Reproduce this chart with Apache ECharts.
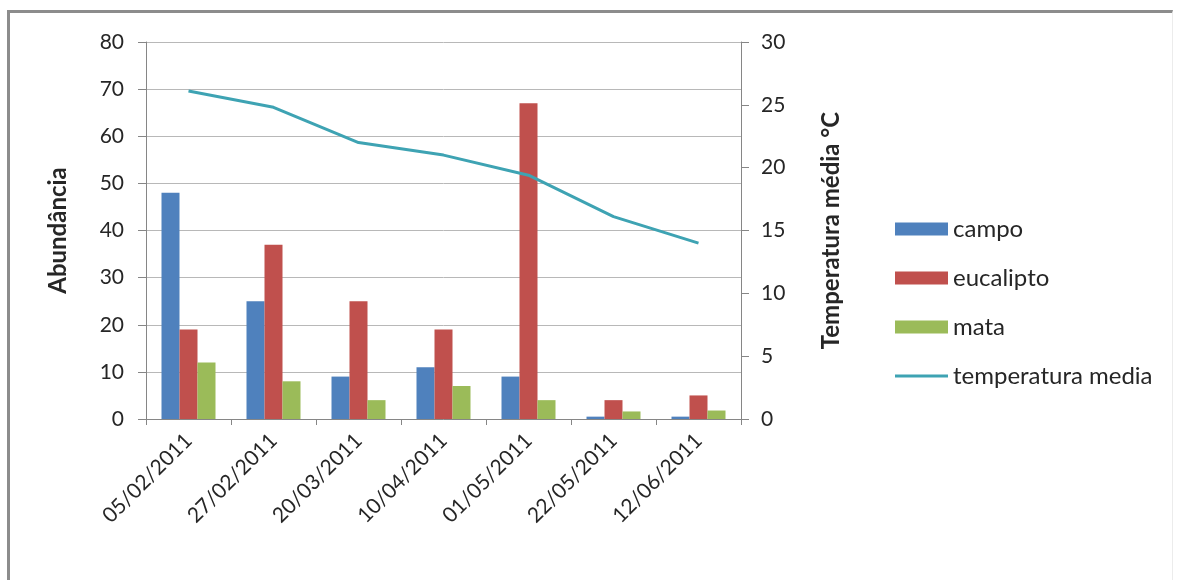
<!DOCTYPE html>
<html>
<head>
<meta charset="utf-8">
<script src="https://cdn.jsdelivr.net/npm/echarts@6/dist/echarts.min.js"></script>
<style>
  html, body { margin: 0; padding: 0; background: #fff; }
  #chart { position: absolute; left: 0; top: 0; width: 1177px; height: 580px; }
  #frame {
    position: absolute; left: 7px; top: 10px; width: 1166px; height: 600px;
    border-top: 3px solid #8c8c8c; border-left: 3px solid #8c8c8c;
    border-right: 1px solid #ececec; pointer-events: none; box-sizing: border-box;
  }
</style>
</head>
<body>
<div id="chart"></div>
<div id="frame"></div>
<script>
// Sampling dates
const datas = ['05/02/2011', '27/02/2011', '20/03/2011', '10/04/2011', '01/05/2011', '22/05/2011', '12/06/2011'];
// Abundance per habitat
const campo = [48, 25, 9, 11, 9, 0.5, 0.5];
const eucalipto = [19, 37, 25, 19, 67, 4, 5];
const mata = [12, 8, 4, 7, 4, 1.6, 1.8];
// Mean temperature (°C)
const temperatura = [26.1, 24.8, 22.0, 21.0, 19.4, 16.1, 14.0];

const FONT = 'Lato, "Open Sans", sans-serif';
const TXT = '#262626';
const AXIS = '#868686';

// thin horizontal stroke centred in the legend box
const LINE_ICON = 'path://M0,0 L0.01,0 L0,0.01 Z M0,5 L53,5 L53,8 L0,8 Z M0,13 L0.01,13 L0,12.99 Z';

const chart = echarts.init(document.getElementById('chart'), null, { renderer: 'canvas' });

chart.setOption({
  animation: false,
  textStyle: { fontFamily: FONT },
  grid: { left: 146, right: 436, top: 42, bottom: 161 },
  legend: {
    orient: 'vertical',
    left: 890,
    top: 212,
    itemWidth: 53,
    itemHeight: 13,
    itemGap: 25,
    textStyle: { fontFamily: FONT, fontSize: 24, color: TXT },
    data: [
      { name: 'campo', icon: 'rect' },
      { name: 'eucalipto', icon: 'rect' },
      { name: 'mata', icon: 'rect' },
      { name: 'temperatura media', icon: LINE_ICON, itemStyle: { color: '#3EA3B3' } }
    ]
  },
  xAxis: {
    type: 'category',
    data: datas,
    axisLine: { lineStyle: { color: AXIS, width: 1 } },
    axisTick: { show: true, alignWithLabel: false, length: 6, lineStyle: { color: AXIS } },
    axisLabel: { rotate: 45, fontSize: 21, color: TXT, margin: 18, fontFamily: FONT }
  },
  yAxis: [
    {
      type: 'value', min: 0, max: 80, interval: 10,
      name: 'Abundância', nameLocation: 'middle', nameGap: 76, nameRotate: 90,
      nameTextStyle: { fontSize: 24, fontWeight: 'bold', color: TXT, fontFamily: FONT },
      axisLine: { show: true, lineStyle: { color: AXIS } },
      axisTick: { show: true, length: 8, lineStyle: { color: AXIS } },
      axisLabel: { fontSize: 21, color: TXT, margin: 22, fontFamily: FONT },
      splitLine: { lineStyle: { color: '#b8b8b8', width: 1 } }
    },
    {
      type: 'value', min: 0, max: 30, interval: 5,
      name: 'Temperatura média °C', nameLocation: 'middle', nameGap: 78, nameRotate: 90,
      nameTextStyle: { fontSize: 24, fontWeight: 'bold', color: TXT, fontFamily: FONT },
      axisLine: { show: true, lineStyle: { color: AXIS } },
      axisTick: { show: true, length: 8, lineStyle: { color: AXIS } },
      axisLabel: { fontSize: 21, color: TXT, margin: 20, fontFamily: FONT },
      splitLine: { show: false }
    }
  ],
  series: [
    { name: 'campo', type: 'bar', data: campo, barWidth: 18, barGap: '0%', itemStyle: { color: '#4F81BD' } },
    { name: 'eucalipto', type: 'bar', data: eucalipto, barWidth: 18, barGap: '0%', itemStyle: { color: '#C0504D' } },
    { name: 'mata', type: 'bar', data: mata, barWidth: 18, barGap: '0%', itemStyle: { color: '#9BBB59' } },
    {
      name: 'temperatura media', type: 'line', yAxisIndex: 1, data: temperatura,
      symbol: 'none', lineStyle: { color: '#3EA3B3', width: 3 }, itemStyle: { color: '#3EA3B3' }, z: 5
    }
  ]
});
</script>
</body>
</html>
